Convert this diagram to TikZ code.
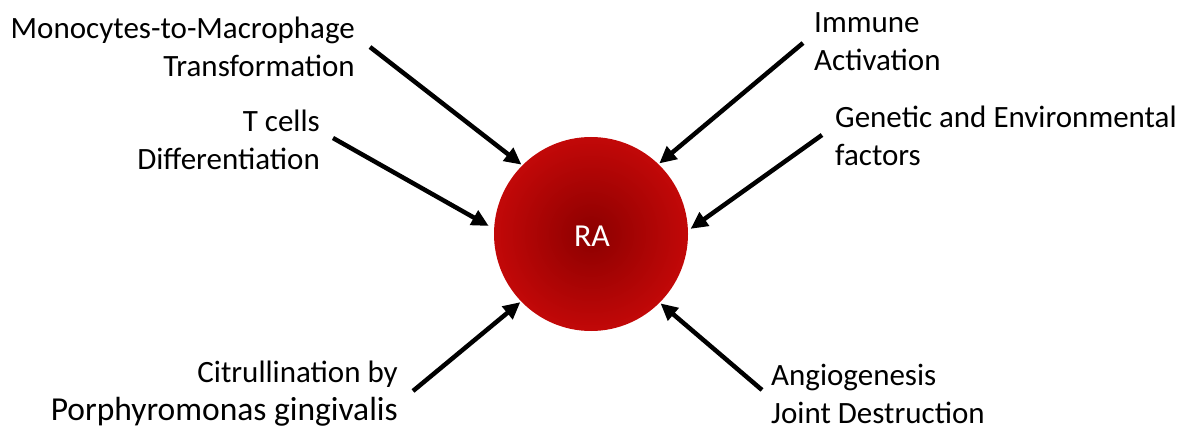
\documentclass[tikz,border=0pt]{standalone}
\usepackage{fontspec}
\setmainfont{Carlito}
\usetikzlibrary{arrows.meta,calc}
\begin{document}
\begin{tikzpicture}[x=1pt,y=-1pt,
  lbl/.style={inner sep=0pt,font=\fontsize{31}{38}\selectfont},
  arr/.style={line width=4.5pt,-{Triangle[length=17pt,width=16pt]},shorten >=1pt}]
\useasboundingbox (0,0) rectangle (1186,430);
\node[circle,minimum size=194pt,inner sep=0pt,
  inner color={rgb,255:red,140;green,0;blue,0},
  outer color={rgb,255:red,194;green,8;blue,8}] (ra) at (591,234) {};
\node[text=white,font=\fontsize{32}{36}\selectfont] (ratext) at (592,236) {RA};
% labels
\node[lbl,align=right,anchor=east] (mono) at (355,47) {Monocytes-to-Macrophage\\Transformation};
\node[lbl,align=right,anchor=east] (tcell) at (320,140) {T cells\\Differentiation};
\node[lbl,align=left,anchor=west] (imm) at (814,42) {Immune\\Activation};
\node[lbl,align=left,anchor=west] (gen) at (835,136) {Genetic and Environmental\\factors};
\node[lbl,align=right,anchor=east] (cit) at (398,394) {Citrullination by\\{\fontsize{33.5}{38}\selectfont Porphyromonas gingivalis}};
\node[lbl,align=left,anchor=west] (ang) at (771,394) {Angiogenesis\\Joint Destruction};
% arrow starts
\coordinate (smono) at (370,47);
\coordinate (stcell) at (333,138);
\coordinate (simm) at (803,43);
\coordinate (sgen) at (822,135);
\coordinate (scit) at (413,391);
\coordinate (sang) at (762,390);
\draw[arr] (smono) -- (ra.135);
\draw[arr,shorten >=6pt] (stcell) -- (ra.177);
\draw[arr] (simm) -- (ra.46);
\draw[arr,shorten >=3pt] (sgen) -- (ra.2);
\draw[arr] (scit) -- (ra.224);
\draw[arr] (sang) -- (ra.315);
\end{tikzpicture}
\end{document}
